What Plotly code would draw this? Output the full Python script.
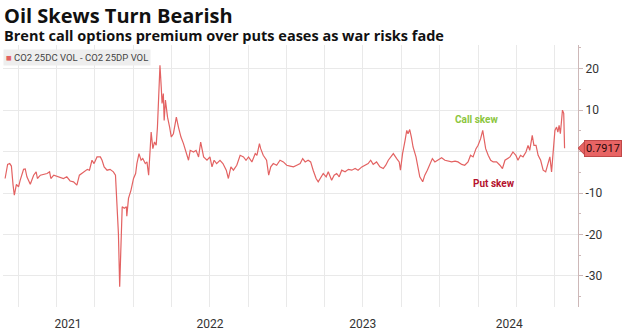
import plotly.graph_objects as go
import pandas as pd

dates = [
    "2021-03-01","2021-03-07","2021-03-12","2021-03-16","2021-03-20","2021-03-23","2021-03-28","2021-04-02",
    "2021-04-06","2021-04-14","2021-04-18","2021-04-22","2021-04-30","2021-05-08","2021-05-14","2021-05-17",
    "2021-05-24","2021-06-09","2021-06-15","2021-06-18","2021-06-25","2021-07-06","2021-07-18","2021-07-26",
    "2021-08-03","2021-08-11","2021-08-19","2021-08-25","2021-09-04","2021-09-13","2021-09-18","2021-09-24",
    "2021-09-29","2021-10-06","2021-10-14","2021-10-18","2021-10-23","2021-10-30","2021-11-06","2021-11-14",
    "2021-11-19","2021-11-22","2021-11-24","2021-11-26","2021-11-29","2021-12-02","2021-12-05","2021-12-10",
    "2021-12-15","2021-12-16","2021-12-20","2021-12-26","2022-01-01","2022-01-06","2022-01-09","2022-01-14",
    "2022-01-19","2022-01-23","2022-01-29","2022-02-02","2022-02-06","2022-02-12","2022-02-16","2022-02-20",
    "2022-02-24","2022-02-27","2022-03-02","2022-03-05","2022-03-08","2022-03-10","2022-03-13","2022-03-15",
    "2022-03-18","2022-03-23","2022-03-28","2022-04-01","2022-04-06","2022-04-13","2022-04-18","2022-04-24",
    "2022-04-30","2022-05-06","2022-05-12","2022-05-16","2022-05-24","2022-05-30","2022-06-05","2022-06-10",
    "2022-06-17","2022-06-25","2022-07-02","2022-07-07","2022-07-12","2022-07-18","2022-07-26","2022-08-02",
    "2022-08-10","2022-08-15","2022-08-21","2022-08-27","2022-09-04","2022-09-12","2022-09-20","2022-09-26",
    "2022-10-02","2022-10-10","2022-10-18","2022-10-22","2022-10-28","2022-10-31","2022-11-06","2022-11-14",
    "2022-11-19","2022-11-24","2022-11-30","2022-12-08","2022-12-16","2022-12-24","2023-01-01","2023-01-09",
    "2023-01-17","2023-01-25","2023-02-02","2023-02-08","2023-02-14","2023-02-21","2023-02-27","2023-03-05",
    "2023-03-12","2023-03-17","2023-03-23","2023-03-29","2023-04-05","2023-04-10","2023-04-18","2023-04-24",
    "2023-04-30","2023-05-06","2023-05-12","2023-05-20","2023-05-28","2023-06-05","2023-06-13","2023-06-20",
    "2023-06-29","2023-07-06","2023-07-14","2023-07-20","2023-07-26","2023-08-03","2023-08-11","2023-08-19",
    "2023-08-25","2023-08-31","2023-09-06","2023-09-12","2023-09-20","2023-09-26","2023-09-29","2023-10-04",
    "2023-10-10","2023-10-14","2023-10-17","2023-10-21","2023-10-25","2023-10-29","2023-11-05","2023-11-10",
    "2023-11-14","2023-11-21","2023-11-26","2023-12-02","2023-12-08","2023-12-14","2023-12-20","2023-12-28",
    "2024-01-05","2024-01-13","2024-01-21","2024-01-29","2024-02-06","2024-02-13","2024-02-22","2024-02-29",
    "2024-03-08","2024-03-14","2024-03-20","2024-03-27","2024-04-01","2024-04-07","2024-04-12","2024-04-15",
    "2024-04-19","2024-04-25","2024-05-01","2024-05-07","2024-05-15","2024-05-23","2024-05-29","2024-06-04",
    "2024-06-10","2024-06-16","2024-06-23","2024-06-30","2024-07-05","2024-07-11","2024-07-17","2024-07-24",
    "2024-07-29","2024-08-02","2024-08-08","2024-08-12","2024-08-17","2024-08-22","2024-08-28","2024-09-03",
    "2024-09-09","2024-09-15","2024-09-19","2024-09-23","2024-09-27","2024-10-01","2024-10-05","2024-10-08",
    "2024-10-11","2024-10-14","2024-10-19","2024-10-22","2024-10-24",
]

skew = [
    -6.5,-3.1,-2.9,-3.5,-8.1,-10.5,-7.9,-8.5,
    -6.9,-4.3,-4.2,-6.1,-7.9,-5.7,-4.9,-6.5,
    -5.7,-5.3,-4.9,-6.5,-5.7,-6.1,-6.5,-6.1,
    -7.1,-7.3,-8.1,-5.7,-4.9,-4.3,-4.5,-2.1,
    -2.9,-1.3,-1.3,-2.1,-3.7,-4.5,-4.3,-4.9,
    -5.7,-12.5,-18.2,-19.8,-32.6,-22.1,-13.3,-13.7,
    -13.3,-15.6,-11.3,-9.3,-6.5,-5.3,-2.9,-0.5,
    -2.1,-1.7,-2.9,-2.5,-5.7,4.7,0.7,2.3,
    1.5,5.9,14.0,20.8,15.6,11.6,14.0,7.5,
    12.4,8.3,5.9,3.5,4.3,8.3,5.9,3.5,
    1.9,-0.1,-2.1,0.3,-0.1,0.3,-1.3,2.3,
    -1.3,-2.1,-1.3,-3.7,-2.1,-2.9,-2.1,-2.9,
    -4.5,-6.5,-3.7,-4.5,-3.3,-0.9,-1.3,-2.1,
    -1.3,-2.5,-0.5,-0.9,1.9,0.7,-0.9,-2.1,
    -5.7,-3.7,-2.9,-3.3,-2.1,-2.5,-3.3,-3.5,
    -3.7,-3.3,-2.9,-1.7,-2.5,-2.1,-2.5,-4.5,
    -6.5,-7.3,-6.1,-5.3,-6.1,-4.9,-6.9,-5.7,
    -5.3,-6.1,-4.5,-4.9,-4.3,-4.5,-4.1,-4.5,
    -3.7,-3.3,-2.9,-2.1,-3.1,-2.5,-3.7,-4.1,
    -3.3,-2.1,-1.3,-0.5,-1.7,-2.5,-4.5,-0.5,
    2.7,5.1,4.3,5.3,3.5,1.1,-1.3,-4.5,
    -6.1,-7.3,-5.7,-4.5,-3.3,-1.7,-2.5,-2.1,
    -1.5,-2.1,-2.3,-2.5,-2.3,-2.5,-3.1,-3.3,
    -2.5,-0.9,-1.3,0.7,1.5,3.1,5.1,3.5,
    0.7,-0.9,-2.1,-2.5,-2.5,-3.3,-4.1,-2.1,
    -1.7,-1.3,-0.1,-0.9,-2.1,-0.9,-1.3,-0.1,
    1.5,0.3,3.9,1.5,1.5,-0.9,-2.1,-4.5,
    -4.9,-2.5,-1.3,-4.9,0.3,5.1,5.9,4.7,
    6.3,4.3,10.0,9.2,0.7917,
]

year_ticks = ["2021-07-29", "2022-07-02", "2023-07-01", "2024-06-14"]
year_labels = ["2021", "2022", "2023", "2024"]
y_ticks = [-30, -20, -10, 0, 10, 20]
y_labels = ["-30", "-20", "-10", "", "10", "20"]
series_name = "CO2 25DC VOL - CO2 25DP VOL"
title = "Oil Skews Turn Bearish"
subtitle = "Brent call options premium over puts eases as war risks fade"

LINE = "#e36262"
FONT = "Roboto, 'Open Sans', sans-serif"
TFONT = "'Open Sans', Roboto, sans-serif"

quarters = [d.strftime("%Y-%m-%d") for d in pd.date_range("2021-04-01", "2024-10-01", freq="QS")]

fig = go.Figure()
fig.add_trace(go.Scatter(x=dates, y=skew, mode="lines", line=dict(color=LINE, width=1.2),
                         name=series_name, showlegend=False, hoverinfo="skip"))

fig.update_layout(
    width=626, height=335,
    margin=dict(l=3, r=48, t=45, b=28),
    paper_bgcolor="white", plot_bgcolor="white",
    font=dict(family=FONT, color="#333333"),
    showlegend=False,
)
fig.update_xaxes(
    type="date", range=["2021-02-24", "2024-11-25"],
    tickmode="array", tickvals=year_ticks, ticktext=year_labels,
    showgrid=False, zeroline=False, showline=False,
    ticks="outside", ticklen=6, tickcolor="rgba(0,0,0,0)",
    tickfont=dict(size=12, color="#333333"),
    minor=dict(tickmode="array", tickvals=quarters, showgrid=True, gridcolor="#e9e9e9", gridwidth=1, ticks=""),
)
fig.update_yaxes(
    side="right", range=[-37.5, 25.7],
    tickmode="array", tickvals=y_ticks, ticktext=y_labels,
    showgrid=True, gridcolor="#e9e9e9", gridwidth=1, zeroline=False,
    showline=True, linecolor="#cdb8b8", linewidth=1,
    ticks="outside", ticklen=4, tickcolor="#cdb8b8",
    tickfont=dict(size=12, color="#333333"),
    minor=dict(tickmode="array", tickvals=[-35, -25, -15, -5, 5, 15, 25], ticks="outside", ticklen=2,
               tickcolor="#cdb8b8", showgrid=False),
)

# title + subtitle in one text block
fig.add_annotation(
    text=(f"<span style='font-size:20px'><b>{title}</b></span><br>"
          f"<span style='font-size:14.5px'><b>{subtitle}</b></span>"),
    xref="paper", yref="paper", x=0, y=1, xanchor="left", yanchor="bottom", align="left",
    xshift=-1, yshift=-2, showarrow=False,
    font=dict(size=14, color="#111111", family=TFONT))

# legend box
fig.add_annotation(text=f"<span style='color:{LINE}'>■</span> {series_name}",
                   xref="paper", yref="paper", x=0, y=1, xanchor="left", yanchor="top", yshift=-4,
                   showarrow=False, bgcolor="#eeeeee", borderpad=2,
                   font=dict(size=9.5, color="#444444", family=FONT))

# region labels
fig.add_annotation(text="<b>Call skew</b>", x="2024-03-29", y=7.8, showarrow=False,
                   font=dict(size=10, color="#8cc63e", family=FONT))
fig.add_annotation(text="<b>Put skew</b>", x="2024-05-08", y=-7.6, showarrow=False,
                   font=dict(size=10, color="#b5122e", family=FONT))

# last value tag
last = skew[-1]
fig.add_shape(type="path", xref="paper", yref="y",
              path=f"M 1.0 {last} L 1.011 {last + 1.5} L 1.011 {last - 1.5} Z",
              fillcolor="#e86464", line=dict(color="#c04848", width=1))
fig.add_annotation(text=f"{last:.4f}", xref="paper", yref="y", x=1.011, y=last,
                   xanchor="left", yanchor="middle", showarrow=False,
                   bgcolor="#e86464", bordercolor="#c04848", borderwidth=1, borderpad=1,
                   font=dict(size=11, color="#2a0808", family=FONT))

fig.write_html("out.html")
